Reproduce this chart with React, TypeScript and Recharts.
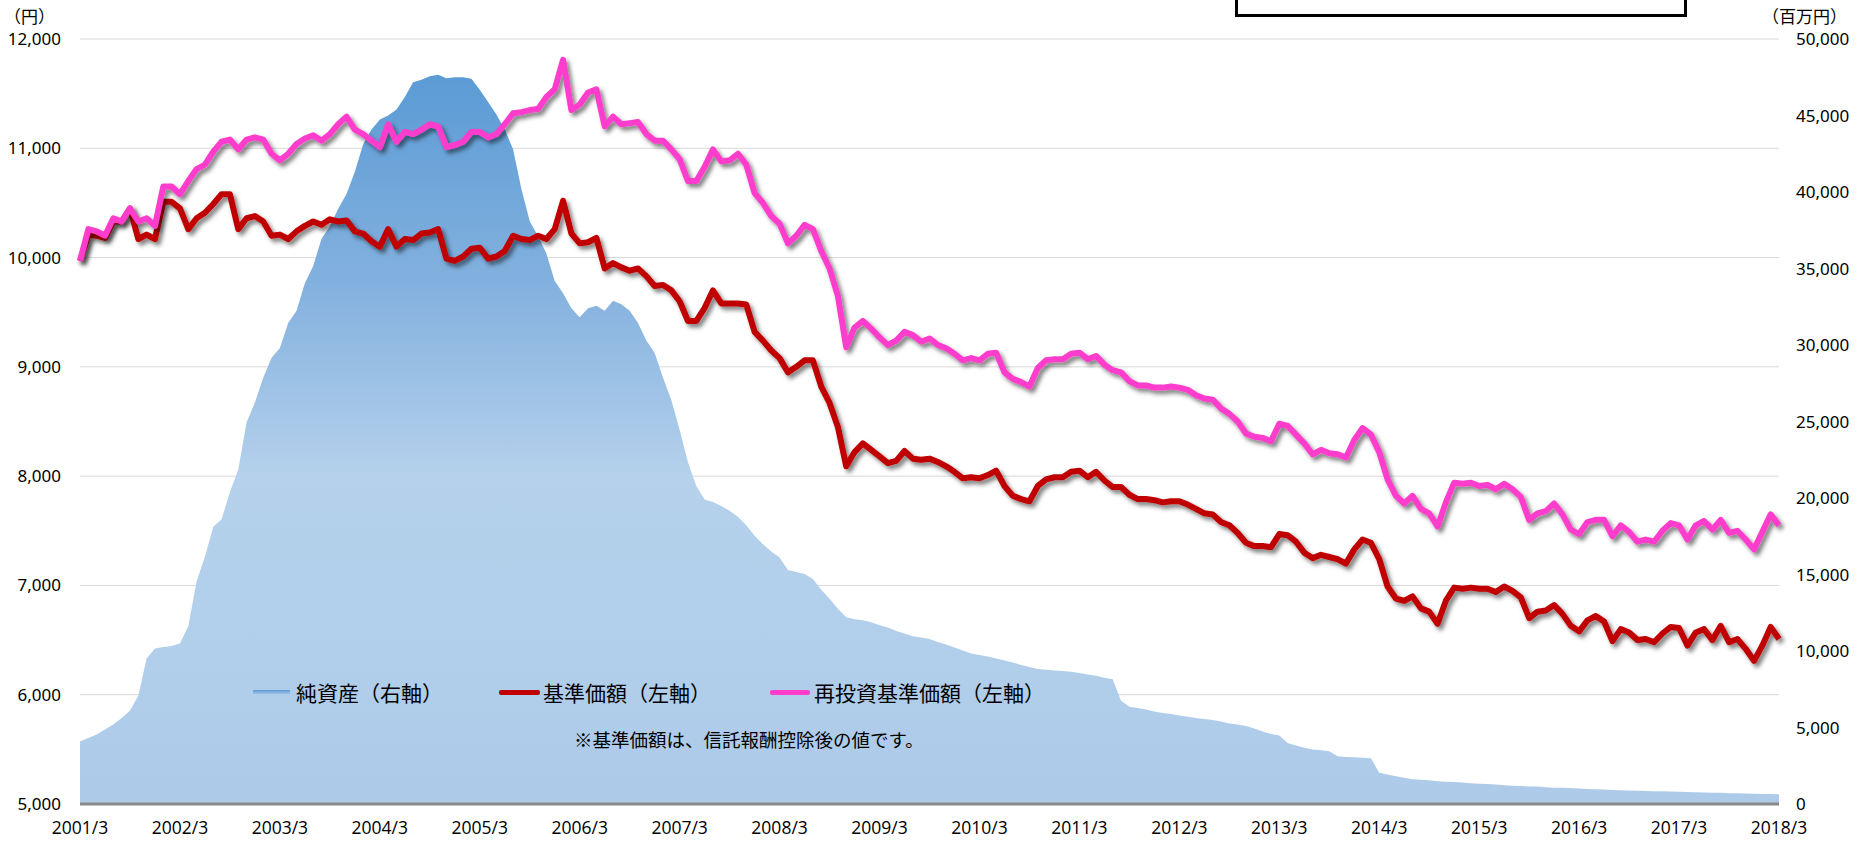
import React from "react";
import {
  ComposedChart,
  Area,
  Line,
  XAxis,
  YAxis,
  CartesianGrid
} from "recharts";

// monthly points, 2001/3 .. 2018/3
const months: string[] = [];
for (let i = 0; i <= 204; i++) {
  const t = 2 + i; // March 2001 = month index 2 of 2001
  months.push(`${2001 + Math.floor(t / 12)}/${(t % 12) + 1}`);
}

const xTicks = [
  "2001/3", "2002/3", "2003/3", "2004/3", "2005/3", "2006/3", "2007/3", "2008/3", "2009/3",
  "2010/3", "2011/3", "2012/3", "2013/3", "2014/3", "2015/3", "2016/3", "2017/3", "2018/3"
];
const leftTicks = [5000, 6000, 7000, 8000, 9000, 10000, 11000, 12000];
const rightTicks = [0, 5000, 10000, 15000, 20000, 25000, 30000, 35000, 40000, 45000, 50000];

// 純資産 (百万円)
const netAssets = [
  4090, 4320, 4550, 4870, 5200, 5620, 6100, 7080, 9510, 10160, 10260, 10330,
  10490, 11620, 14550, 16170, 18120, 18610, 20390, 21850, 24940, 26240, 27860, 29160,
  29810, 31430, 32240, 34030, 35170, 36950, 37760, 38900, 39870, 41330, 43120, 44090,
  44740, 45000, 45390, 46210, 47180, 47340, 47570, 47670, 47440, 47500, 47500, 47410,
  46690, 45880, 45070, 44090, 42800, 40200, 38090, 37110, 35980, 34190, 33380, 32410,
  31820, 32410, 32570, 32240, 32890, 32670, 32240, 31430, 30300, 29480, 27860, 26400,
  24450, 22340, 20780, 19900, 19740, 19480, 19160, 18770, 18220, 17530, 16980, 16500,
  16110, 15290, 15160, 15030, 14710, 14000, 13410, 12760, 12210, 12080, 12010, 11880,
  11690, 11530, 11300, 11140, 10970, 10880, 10780, 10590, 10420, 10230, 10030, 9840,
  9740, 9640, 9510, 9380, 9250, 9090, 8960, 8830, 8770, 8730, 8700, 8640,
  8570, 8470, 8380, 8250, 8150, 6750, 6360, 6270, 6170, 6040, 5940, 5880,
  5780, 5710, 5620, 5550, 5490, 5390, 5260, 5200, 5100, 4940, 4740, 4580,
  4480, 3990, 3830, 3670, 3570, 3510, 3440, 3120, 3080, 3050, 3020, 2990,
  2050, 1920, 1820, 1720, 1620, 1590, 1560, 1490, 1460, 1430, 1400, 1360,
  1330, 1300, 1270, 1230, 1200, 1170, 1150, 1140, 1100, 1070, 1060, 1040,
  1010, 980, 970, 940, 910, 900, 880, 870, 850, 840, 830, 810,
  800, 780, 770, 750, 740, 730, 710, 700, 680, 670, 660, 650,
  640
];

// 基準価額 (円)
const nav = [
  9970, 10210, 10200, 10180, 10330, 10330, 10450, 10170, 10210, 10170, 10510, 10510,
  10450, 10260, 10360, 10410, 10490, 10580, 10580, 10260, 10360, 10380, 10330, 10200,
  10210, 10170, 10240, 10290, 10330, 10300, 10350, 10330, 10340, 10240, 10220, 10150,
  10100, 10260, 10100, 10170, 10160, 10220, 10230, 10260, 9990, 9970, 10010, 10080,
  10090, 9990, 10010, 10060, 10200, 10170, 10160, 10200, 10170, 10260, 10520, 10220,
  10130, 10140, 10180, 9900, 9950, 9910, 9880, 9900, 9830, 9740, 9750, 9700,
  9600, 9420, 9420, 9540, 9700, 9580, 9580, 9580, 9570, 9320, 9240, 9150,
  9080, 8950, 9000, 9060, 9060, 8820, 8670, 8450, 8090, 8220, 8300, 8240,
  8180, 8120, 8140, 8230, 8160, 8150, 8160, 8130, 8090, 8040, 7980, 7990,
  7980, 8010, 8050, 7910, 7820, 7790, 7770, 7910, 7970, 7990, 7990, 8040,
  8050, 7990, 8040, 7960, 7900, 7900, 7830, 7790, 7790, 7780, 7760, 7770,
  7770, 7740, 7700, 7660, 7650, 7580, 7550, 7480, 7390, 7360, 7360, 7350,
  7470, 7460, 7400, 7300, 7250, 7280, 7260, 7240, 7200, 7330, 7420, 7390,
  7240, 6990, 6880, 6860, 6900, 6790, 6760, 6650, 6860, 6980, 6970, 6980,
  6970, 6970, 6940, 6990, 6950, 6890, 6700, 6760, 6770, 6820, 6740, 6630,
  6580, 6680, 6720, 6670, 6490, 6600, 6570, 6500, 6510, 6480, 6560, 6620,
  6610, 6450, 6570, 6600, 6500, 6630, 6480, 6510, 6420, 6310, 6450, 6620,
  6510
];

// 再投資基準価額 (円)
const reinvestNav = [
  9970, 10260, 10240, 10200, 10360, 10330, 10450, 10330, 10360, 10290, 10650, 10650,
  10580, 10700, 10810, 10850, 10970, 11060, 11080, 10990, 11080, 11100, 11080, 10950,
  10890, 10950, 11040, 11090, 11120, 11070, 11130, 11220, 11290, 11170, 11130, 11070,
  11010, 11220, 11060, 11150, 11130, 11170, 11220, 11200, 11010, 11030, 11060, 11150,
  11150, 11100, 11130, 11220, 11320, 11330, 11350, 11360, 11470, 11540, 11810, 11350,
  11400, 11510, 11540, 11200, 11290, 11220, 11230, 11240, 11130, 11070, 11070, 10990,
  10900, 10700, 10700, 10830, 10990, 10880, 10890, 10950, 10850, 10590, 10500, 10380,
  10310, 10130, 10200, 10300, 10260, 10060, 9900, 9650, 9180, 9360, 9420, 9350,
  9270, 9200, 9240, 9320, 9290, 9230, 9260, 9200, 9170, 9120, 9060, 9080,
  9060, 9120, 9130, 8950, 8890, 8860, 8820, 8990, 9060, 9070, 9070, 9120,
  9130, 9070, 9100, 9020, 8970, 8950, 8870, 8830, 8830, 8810, 8810, 8820,
  8810, 8790, 8740, 8710, 8700, 8620, 8570, 8500, 8390, 8360, 8350, 8320,
  8480, 8460, 8380, 8300, 8200, 8240, 8210, 8200, 8170, 8330, 8440, 8380,
  8220, 7970, 7820, 7750, 7820, 7700, 7660, 7540, 7760, 7940, 7930, 7940,
  7910, 7920, 7880, 7930, 7880, 7810, 7600, 7660, 7680, 7750, 7650, 7510,
  7470, 7580, 7600, 7600, 7450, 7550, 7490, 7400, 7420, 7400, 7500, 7570,
  7550, 7420, 7550, 7590, 7510, 7600, 7480, 7500, 7420, 7330, 7490, 7650,
  7550
];

const data = months.map((month, i) => ({
  month,
  netAssets: netAssets[i],
  nav: nav[i],
  reinvestNav: reinvestNav[i]
}));

const JP = '"Noto Sans CJK JP", "Noto Sans", sans-serif';
const fmt = (v: number) => v.toLocaleString("en-US");

export default function App() {
  return (
    <div style={{ position: "absolute", left: 0, top: 0, width: 1857, height: 842, background: "#fff", overflow: "hidden" }}>
      <style>{`.recharts-line-curve { filter: url(#lineShadow); }`}</style>
      <svg width={0} height={0} style={{ position: "absolute" }}>
        <defs>
          <filter id="lineShadow" x="-5%" y="-5%" width="110%" height="120%">
            <feDropShadow dx="3" dy="3.5" stdDeviation="2" floodColor="#000" floodOpacity="0.5" />
          </filter>
          <linearGradient id="navGrad" x1="0" y1="0" x2="0" y2="1">
            <stop offset="0%" stopColor="#5b9bd5" />
            <stop offset="30%" stopColor="#85b2df" />
            <stop offset="55%" stopColor="#b5d1ec" />
            <stop offset="100%" stopColor="#adcbe9" />
          </linearGradient>
        </defs>
      </svg>

      <ComposedChart width={1857} height={842} data={data} margin={{ top: 39, right: 0, bottom: 0, left: 0 }}>
        <CartesianGrid vertical={false} stroke="#d9d9d9" yAxisId="left" />
        <XAxis
          dataKey="month"
          ticks={xTicks}
          interval={0}
          height={38}
          tickLine={false}
          tickSize={0}
          tickMargin={18}
          axisLine={{ stroke: "#898989", strokeWidth: 3 }}
          tick={{ fontSize: 17.5, fill: "#000", fontFamily: "Open Sans" }}
        />
        <YAxis
          yAxisId="left"
          domain={[5000, 12000]}
          ticks={leftTicks}
          tickFormatter={fmt}
          width={80}
          axisLine={false}
          tickLine={false}
          tickSize={0}
          tickMargin={19}
          tick={{ fontSize: 17, fill: "#000", fontFamily: "Noto Sans" }}
        />
        <YAxis
          yAxisId="right"
          orientation="right"
          domain={[0, 50000]}
          ticks={rightTicks}
          tickFormatter={fmt}
          width={78}
          axisLine={false}
          tickLine={false}
          tickSize={0}
          tickMargin={17}
          tick={{ fontSize: 17, fill: "#000", fontFamily: "Noto Sans" }}
        />
        <Area
          yAxisId="right"
          dataKey="netAssets"
          type="linear"
          stroke="none"
          fill="url(#navGrad)"
          fillOpacity={1}
          isAnimationActive={false}
        />
        <Line
          yAxisId="left"
          dataKey="nav"
          type="linear"
          stroke="#c00000"
          strokeWidth={6}
          strokeLinejoin="round"
          dot={false}
          isAnimationActive={false}
        />
        <Line
          yAxisId="left"
          dataKey="reinvestNav"
          type="linear"
          stroke="#ff3ccc"
          strokeWidth={6}
          strokeLinejoin="round"
          dot={false}
          isAnimationActive={false}
        />
      </ComposedChart>

      {/* unit labels */}
      <div style={{ position: "absolute", left: 4, top: 7, fontSize: 17, lineHeight: "18px", fontFamily: JP, color: "#000" }}>（円）</div>
      <div style={{ position: "absolute", left: 1762, top: 7, fontSize: 17, lineHeight: "18px", fontFamily: JP, color: "#000" }}>（百万円）</div>

      {/* box at the top */}
      <div style={{ position: "absolute", left: 1235, top: -12, width: 452, height: 29, border: "3px solid #000", boxSizing: "border-box" }} />

      {/* legend */}
      <div style={{ position: "absolute", left: 253, top: 690, width: 37, height: 4, background: "linear-gradient(#5b9bd5, #9dc3e6)" }} />
      <div style={{ position: "absolute", left: 296, top: 678, fontSize: 21, lineHeight: "28px", fontFamily: JP, color: "#000" }}>純資産（右軸）</div>
      <div style={{ position: "absolute", left: 499, top: 690, width: 41, height: 5, background: "#c00000", borderRadius: 2 }} />
      <div style={{ position: "absolute", left: 543, top: 678, fontSize: 21, lineHeight: "28px", fontFamily: JP, color: "#000" }}>基準価額（左軸）</div>
      <div style={{ position: "absolute", left: 770, top: 690, width: 40, height: 5, background: "#ff3ccc", borderRadius: 2 }} />
      <div style={{ position: "absolute", left: 814, top: 678, fontSize: 21, lineHeight: "28px", fontFamily: JP, color: "#000" }}>再投資基準価額（左軸）</div>
      <div style={{ position: "absolute", left: 574, top: 727, fontSize: 18.5, lineHeight: "24px", fontFamily: JP, color: "#000" }}>※基準価額は、信託報酬控除後の値です。</div>
    </div>
  );
}
